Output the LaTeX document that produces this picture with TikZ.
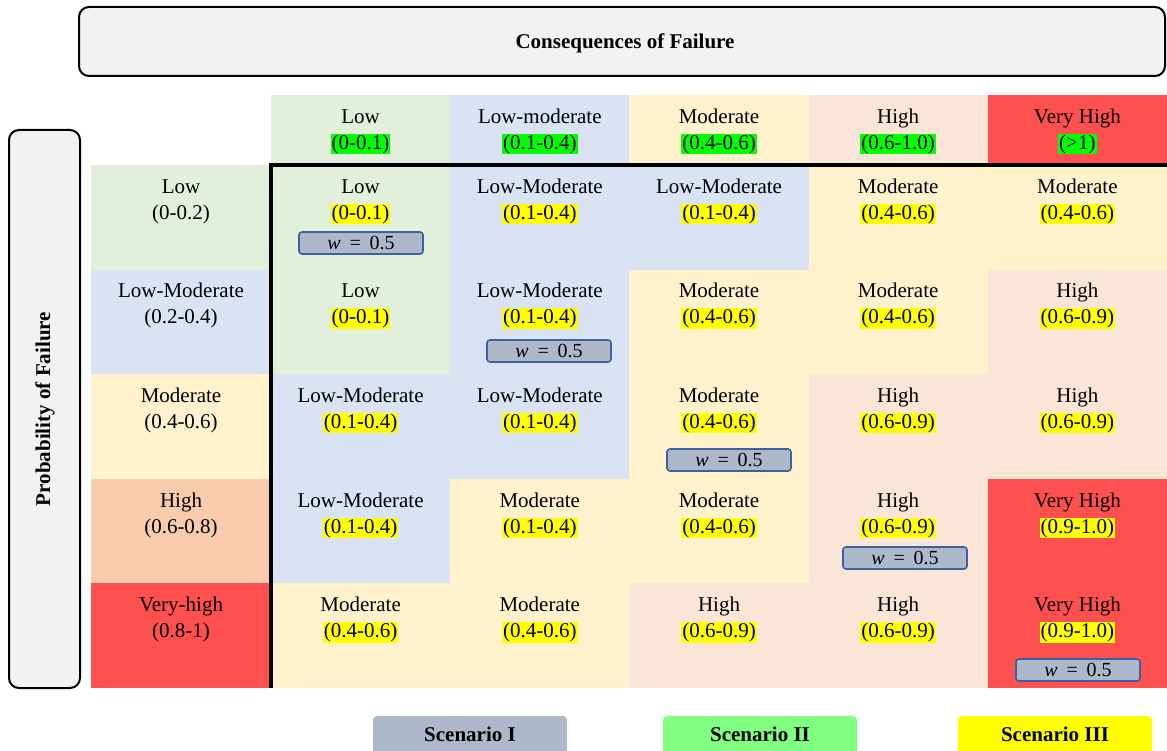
\documentclass[tikz,border=0pt]{standalone}
\usepackage{fontspec}
\setmainfont{Liberation Serif}
\definecolor{cgrn}{HTML}{E2EFDA}
\definecolor{cblu}{HTML}{DAE3F3}
\definecolor{cyel}{HTML}{FFF2CC}
\definecolor{cpch}{HTML}{FBE5D6}
\definecolor{cdpch}{HTML}{F8CBAD}
\definecolor{cred}{HTML}{FF5050}
\definecolor{hlgreen}{HTML}{00FF00}
\definecolor{hlyellow}{HTML}{FFFF00}
\definecolor{wfill}{HTML}{ADB9CA}
\definecolor{wdraw}{HTML}{3A62A0}
\definecolor{titlefill}{HTML}{F2F2F2}
\definecolor{legII}{HTML}{80FF80}
\newcommand{\wlab}{\textit{w}\;\,=\;\,0.5}
\begin{document}
\begin{tikzpicture}[x=1pt,y=-1pt,
  txt/.style={font=\fontsize{21}{26}\selectfont, inner sep=0pt, text=black,
    text height=15pt, text depth=4.5pt},
  rngG/.style={txt, fill=hlgreen, inner xsep=1pt, inner ysep=0.5pt},
  rngY/.style={txt, fill=hlyellow, inner xsep=1pt, inner ysep=0.5pt},
  wbox/.style={draw=wdraw, fill=wfill, line width=1.6pt, rounded corners=3pt,
    minimum width=124pt, minimum height=22pt, inner sep=0pt,
    font=\fontsize{20}{24}\selectfont},
  titlebox/.style={draw=black, fill=titlefill, line width=2pt, rounded corners=10pt},
  legbox/.style={rounded corners=4pt, minimum width=194pt, minimum height=44pt,
    inner sep=0pt},
  legtext/.style={font=\fontsize{21}{24}\selectfont\bfseries},
  thick frame/.style={line width=3.2pt, black}]
\clip (0,0) rectangle (1167,751);
\fill[white] (0,0) rectangle (1167,751);

% title boxes
\draw[titlebox] (79,7) rectangle (1165,76);
\node[font=\fontsize{21}{24}\selectfont\bfseries] (cons) at (625,43) {Consequences of Failure};
\draw[titlebox] (9,130) rectangle (80,688);
\node[font=\fontsize{21}{24}\selectfont\bfseries, rotate=90] (prob) at (45,409) {Probability of Failure};

% column headers (consequence classes)
\foreach \lab/\rng/\col [count=\i] in {Low/(0-0.1)/cgrn, Low-moderate/(0.1-0.4)/cblu,
    Moderate/(0.4-0.6)/cyel, High/(0.6-1.0)/cpch, Very High/(>1)/cred}{
  \pgfmathsetmacro{\xl}{271+(\i-1)*179.2}
  \pgfmathsetmacro{\xc}{\xl+89.6}
  \fill[\col] (\xl,95) rectangle ++(179.2,70);
  \node[txt] (hl-\i) at (\xc,118) {\lab};
  \node[rngG] (hr-\i) at (\xc,144) {\rng};
}

% row headers (probability classes)
\foreach \lab/\rng/\col [count=\i] in {Low/(0-0.2)/cgrn, Low-Moderate/(0.2-0.4)/cblu,
    Moderate/(0.4-0.6)/cyel, High/(0.6-0.8)/cdpch, Very-high/(0.8-1)/cred}{
  \pgfmathsetmacro{\yt}{165+(\i-1)*104.6}
  \fill[\col] (91,\yt) rectangle ++(180,104.6);
  \node[txt] (rl-\i) at (181,\yt+23) {\lab};
  \node[txt] (rr-\i) at (181,\yt+49) {\rng};
}

% risk matrix cells
\foreach \r/\c/\lab/\rng/\col in {
  1/1/Low/(0-0.1)/cgrn, 1/2/Low-Moderate/(0.1-0.4)/cblu, 1/3/Low-Moderate/(0.1-0.4)/cblu,
  1/4/Moderate/(0.4-0.6)/cyel, 1/5/Moderate/(0.4-0.6)/cyel,
  2/1/Low/(0-0.1)/cgrn, 2/2/Low-Moderate/(0.1-0.4)/cblu, 2/3/Moderate/(0.4-0.6)/cyel,
  2/4/Moderate/(0.4-0.6)/cyel, 2/5/High/(0.6-0.9)/cpch,
  3/1/Low-Moderate/(0.1-0.4)/cblu, 3/2/Low-Moderate/(0.1-0.4)/cblu, 3/3/Moderate/(0.4-0.6)/cyel,
  3/4/High/(0.6-0.9)/cpch, 3/5/High/(0.6-0.9)/cpch,
  4/1/Low-Moderate/(0.1-0.4)/cblu, 4/2/Moderate/(0.1-0.4)/cyel, 4/3/Moderate/(0.4-0.6)/cyel,
  4/4/High/(0.6-0.9)/cpch, 4/5/Very High/(0.9-1.0)/cred,
  5/1/Moderate/(0.4-0.6)/cyel, 5/2/Moderate/(0.4-0.6)/cyel, 5/3/High/(0.6-0.9)/cpch,
  5/4/High/(0.6-0.9)/cpch, 5/5/Very High/(0.9-1.0)/cred}{
  \pgfmathsetmacro{\xl}{271+(\c-1)*179.2}
  \pgfmathsetmacro{\xc}{\xl+89.6}
  \pgfmathsetmacro{\yt}{165+(\r-1)*104.6}
  \fill[\col] (\xl,\yt) rectangle ++(179.2,104.6);
  \node[txt] (cl-\r-\c) at (\xc,\yt+23) {\lab};
  \node[rngY] (cr-\r-\c) at (\xc,\yt+49) {\rng};
}

% weight tags
\node[wbox] (w1) at (361,243) {\wlab};
\node[wbox] (w2) at (549,351) {\wlab};
\node[wbox] (w3) at (729,460) {\wlab};
\node[wbox] (w4) at (905,558) {\wlab};
\node[wbox] (w5) at (1078,670) {\wlab};

% matrix frame
\draw[thick frame] (271,688) -- (271,165) -- (1167,165);

% legend
\node[legbox, fill=wfill] (leg1) at (470,738) {};
\node[legbox, fill=legII] (leg2) at (760,738) {};
\node[legbox, fill=hlyellow] (leg3) at (1055,738) {};
\node[legtext] (legt1) at (470,734) {Scenario I};
\node[legtext] (legt2) at (760,734) {Scenario II};
\node[legtext] (legt3) at (1055,734) {Scenario III};
\end{tikzpicture}
\end{document}
